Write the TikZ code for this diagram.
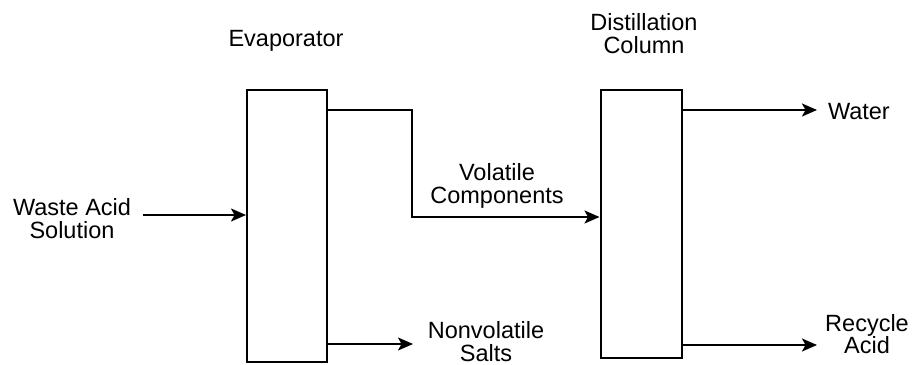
\documentclass[tikz,border=0pt]{standalone}
\usepackage{fontspec}
\setmainfont{Liberation Sans}
\usetikzlibrary{arrows.meta, positioning}

\begin{document}
\begin{tikzpicture}[x=1pt, y=1pt, line width=2pt,
    unit/.style={draw, rectangle, minimum width=80pt, inner sep=0pt},
    lbl/.style={align=center, inner sep=0pt, font=\fontsize{23.5}{22.5}\selectfont},
    flow/.style={-{Stealth[length=15pt, width=13pt, inset=3.5pt]}}]
  \useasboundingbox (0,0) rectangle (923,364);

  % process units
  \node[unit, minimum height=272pt] (evap) at (287,138) {};
  \node[unit, minimum width=81pt, minimum height=268pt] (dist) at (641,140) {};

  \node[lbl, anchor=base] (evaplbl) at (286,317) {Evaporator};
  \node[lbl] (distlbl) at (644,330.5) {Distillation\\Column};

  % streams
  \node[lbl] (feed) at (72,145.5) {Waste Acid\\Solution};
  \node[lbl] (vol) at (497,178) {Volatile\\Components};
  \node[lbl] (salts) at (486,22.5) {Nonvolatile\\Salts};
  \node[lbl, anchor=west] (water) at (827,252) {Water};
  \node[lbl] (acid) at (867,30) {Recycle\\Acid};

  \coordinate (feedin) at (143,149);
  \coordinate (vtop) at (412,254);
  \coordinate (vbot) at (412,147);
  \coordinate (saltend) at (413,20);
  \coordinate (waterend) at (817,254);
  \coordinate (acidend) at (817,19);

  \draw[flow] (feedin) -- (feedin -| evap.west);
  \draw[flow] (vtop -| evap.east) -- (vtop) -- (vbot) -- (vbot -| dist.west);
  \draw[flow] (saltend -| evap.east) -- (saltend);
  \draw[flow] (waterend -| dist.east) -- (waterend);
  \draw[flow] (acidend -| dist.east) -- (acidend);
\end{tikzpicture}
\end{document}
